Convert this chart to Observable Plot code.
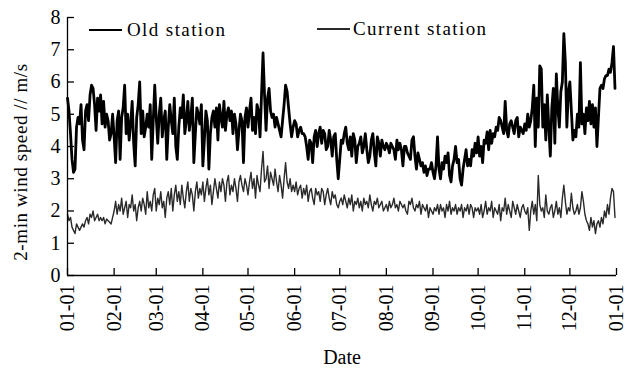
<!DOCTYPE html>
<html>
<head>
<meta charset="utf-8">
<script src="https://cdn.jsdelivr.net/npm/d3@7"></script>
<script src="https://cdn.jsdelivr.net/npm/@observablehq/plot@0.6"></script>
<style>
  html, body { margin: 0; padding: 0; background: #fff; }
  #wrap { position: relative; width: 627px; height: 368px; font-family: "Liberation Serif", serif; overflow: hidden; }
  .leg { position: absolute; font-size: 19px; letter-spacing: 1.4px; color: #000; line-height: 1; white-space: nowrap; }
  .legline { position: absolute; }
  #ylab { position: absolute; font-size: 19px; letter-spacing: 0.6px; line-height: 1; white-space: nowrap; color: #000;
          left: 20px; top: 162px; transform: translate(-50%, -50%) rotate(-90deg); }
</style>
</head>
<body>
<div id="wrap"></div>
<script>
const seriesNames = ["Old station", "Current station"];
const yTicks = [0, 1, 2, 3, 4, 5, 6, 7, 8];
const xLabel = "Date";
const yLabel = "2-min wind speed // m/s";

const oldStation = [
  5.5, 5.1, 4.4, 3.6, 3.2, 3.3, 4.6, 4.9, 4.7, 5.3, 4.2, 3.9, 5.1, 5.3, 4.8, 5.6, 5.9, 5.8, 5.3, 4.5, 5.5, 5.1, 5.6, 4.7, 5.4, 4.6, 5.0, 4.8, 4.2, 4.4, 5.0,
  4.3, 3.5, 4.8, 5.1, 3.6, 4.9, 5.2, 5.9, 4.4, 5.0, 4.2, 4.7, 5.4, 4.1, 3.4, 4.9, 5.3, 6.0, 4.4, 5.1, 4.3, 4.6, 5.0, 4.6, 5.3, 3.6, 4.8, 5.9,
  4.9, 4.1, 5.0, 5.5, 4.3, 4.8, 5.1, 3.6, 4.6, 5.3, 4.8, 4.4, 5.5, 4.0, 3.6, 4.6, 5.2, 4.9, 5.6, 4.4, 4.8, 5.4, 4.5, 4.9, 5.5, 3.5, 4.4, 5.2, 5.0, 4.7, 5.3,
  3.4, 4.2, 5.1, 4.8, 3.3, 4.4, 4.9, 5.1, 4.6, 5.2, 4.2, 5.3, 4.9, 4.6, 5.4, 4.5, 5.0, 5.2, 4.8, 5.1, 4.4, 5.0, 4.7, 3.9, 4.5, 5.0, 4.8, 3.5, 4.9, 5.2,
  4.6, 5.1, 5.5, 4.5, 4.9, 4.4, 5.3, 5.1, 4.3, 5.6, 6.9, 5.6, 4.5, 5.5, 5.8, 5.1, 4.9, 5.0, 4.6, 4.9, 4.7, 4.5, 4.3, 4.8, 5.3, 5.9, 5.7, 5.2, 4.7, 4.3, 4.6,
  4.8, 4.7, 4.3, 4.5, 4.6, 4.4, 4.4, 4.3, 4.0, 3.6, 4.2, 4.1, 3.5, 4.3, 4.5, 4.0, 4.4, 4.6, 4.1, 4.5, 4.4, 3.9, 4.0, 4.5, 4.2, 3.7, 4.3, 4.4, 3.6, 3.0,
  3.6, 4.2, 4.1, 4.4, 4.6, 4.1, 3.9, 4.3, 3.7, 4.4, 4.2, 3.5, 4.0, 4.1, 4.3, 3.8, 4.0, 4.4, 3.9, 3.5, 3.7, 4.2, 4.4, 3.8, 3.4, 4.3, 4.1, 3.7, 4.2, 4.0, 3.9,
  4.1, 4.0, 3.8, 4.1, 4.0, 3.9, 3.6, 4.2, 3.9, 4.1, 3.9, 3.4, 4.0, 4.0, 3.8, 3.7, 3.6, 4.2, 4.3, 3.7, 3.3, 3.8, 3.6, 3.4, 3.5, 3.2, 3.4, 3.1, 3.3, 3.3, 3.5,
  3.2, 3.0, 3.4, 4.3, 3.3, 3.0, 3.5, 3.3, 3.7, 3.5, 3.8, 3.1, 2.9, 3.4, 3.6, 4.0, 3.5, 3.6, 3.0, 2.8, 3.3, 3.6, 3.9, 3.4, 3.6, 3.4, 3.9, 3.7, 4.1, 3.8,
  4.3, 3.7, 4.0, 3.5, 4.2, 4.1, 4.45, 3.9, 4.5, 4.1, 4.4, 4.3, 4.6, 4.5, 4.9, 4.8, 4.6, 4.4, 5.4, 4.5, 4.3, 4.7, 4.8, 4.6, 4.4, 4.8, 4.9, 4.3, 4.6, 4.5, 4.4,
  4.7, 4.5, 5.0, 4.6, 4.8, 5.2, 5.9, 4.0, 5.5, 4.6, 6.5, 6.4, 4.6, 5.3, 4.2, 5.6, 4.6, 3.7, 5.2, 5.8, 4.1, 6.25, 5.2, 4.6, 5.7, 6.0, 7.5, 6.6, 4.6, 5.7,
  6.0, 5.1, 4.2, 4.5, 4.3, 5.0, 4.6, 6.6, 4.7, 5.0, 4.4, 5.2, 4.8, 5.4, 4.7, 5.3, 4.6, 5.2, 4.0, 4.9, 5.8, 5.9, 5.8, 6.1, 6.2, 6.2, 6.4, 6.3, 6.6, 7.1, 5.8
];

const currentStation = [
  1.9, 1.7, 1.8, 1.5, 1.4, 1.3, 1.6, 1.5, 1.4, 1.5, 1.6, 1.5, 1.7, 1.8, 1.6, 1.9, 1.8, 2.0, 1.7, 1.8, 1.9, 1.7, 1.8, 1.7, 1.8, 1.6, 1.75, 1.7, 1.65, 1.6, 1.8,
  2.0, 2.3, 1.9, 2.2, 2.0, 2.4, 1.9, 2.1, 2.3, 1.8, 2.2, 2.1, 2.5, 2.0, 2.2, 1.7, 2.1, 2.3, 2.0, 2.4, 2.2, 1.9, 2.6, 2.1, 2.3, 2.0, 2.5, 2.7,
  2.0, 2.4, 2.2, 2.6, 2.1, 2.3, 1.8, 2.4, 2.6, 2.2, 2.7, 2.0, 2.5, 2.8, 2.3, 2.6, 2.2, 2.8, 2.4, 2.1, 2.6, 2.9, 2.3, 2.7, 2.5, 2.0, 2.6, 2.9, 2.4, 2.7, 2.5,
  2.9, 2.3, 2.7, 3.0, 2.5, 2.8, 2.2, 2.6, 3.0, 2.7, 2.4, 2.9, 2.6, 3.0, 2.8, 2.3, 2.9, 3.1, 2.5, 2.8, 2.6, 3.0, 2.7, 2.3, 2.9, 3.1, 2.8, 2.6, 3.0, 2.8,
  2.5, 2.9, 3.2, 2.7, 3.0, 2.4, 3.1, 2.8, 2.6, 3.3, 3.85, 2.9, 3.0, 3.4, 2.7, 3.2, 3.0, 2.8, 3.3, 2.9, 2.6, 3.1, 2.8, 2.4, 3.0, 3.5, 2.9, 2.7, 3.0, 2.6, 2.8,
  2.6, 2.9, 2.5, 2.7, 2.8, 2.4, 2.7, 2.5, 2.8, 2.3, 2.6, 2.7, 2.4, 2.2, 2.7, 2.5, 2.6, 2.3, 2.7, 2.6, 2.2, 2.5, 2.7, 2.4, 2.2, 2.6, 2.4, 2.5, 2.2, 2.1,
  2.3, 2.4, 2.2, 2.5, 2.3, 2.1, 2.4, 2.2, 2.5, 2.0, 2.3, 2.2, 2.4, 2.1, 2.3, 2.0, 2.4, 2.2, 2.3, 2.1, 2.5, 2.2, 2.0, 2.3, 2.2, 2.4, 2.1, 2.2, 2.3, 2.0, 2.1,
  2.2, 2.0, 2.3, 2.1, 2.2, 2.4, 2.1, 2.2, 2.0, 2.3, 2.2, 2.1, 2.2, 2.0, 1.9, 2.3, 2.2, 2.4, 2.1, 2.0, 2.2, 2.1, 2.3, 1.9, 2.2, 2.1, 2.0, 2.2, 1.8, 2.1, 2.0,
  1.9, 2.1, 2.0, 2.2, 1.9, 2.2, 2.0, 2.1, 1.8, 2.2, 2.0, 2.3, 1.9, 2.1, 2.0, 2.2, 1.9, 2.1, 2.0, 2.2, 1.8, 2.1, 2.0, 2.2, 1.9, 2.2, 2.1, 1.8, 2.1, 2.0,
  2.1, 1.9, 2.2, 1.8, 2.0, 2.3, 1.9, 2.1, 2.0, 2.3, 1.8, 2.1, 2.0, 1.9, 2.2, 1.7, 2.1, 2.0, 2.4, 1.9, 2.2, 2.0, 1.8, 2.3, 2.1, 1.9, 2.2, 2.0, 1.8, 2.1, 2.2,
  2.0, 1.9, 2.1, 1.4, 2.0, 2.3, 1.9, 2.2, 1.7, 3.1, 2.2, 2.0, 2.1, 1.8, 2.5, 2.0, 1.9, 2.1, 2.2, 1.8, 2.0, 2.3, 1.9, 2.1, 1.8, 2.4, 2.8, 2.3, 1.9, 2.1,
  2.0, 2.55, 2.1, 1.9, 2.0, 2.2, 1.9, 2.1, 2.6, 2.3, 1.9, 1.7, 1.6, 1.4, 1.8, 1.5, 1.7, 1.3, 1.6, 1.7, 1.5, 1.8, 1.6, 2.0, 1.8, 2.2, 1.9, 2.4, 2.7, 2.6, 1.8
];

const start = new Date(Date.UTC(2019, 0, 1));
const end = new Date(Date.UTC(2020, 0, 1));
const days = d3.utcDay.range(start, end);
const monthTicks = d3.utcMonth.range(start, d3.utcDay.offset(end, 1));

const oldData = days.map((d, i) => ({date: d, v: oldStation[i]})).filter(d => d.v != null);
const curData = days.map((d, i) => ({date: d, v: currentStation[i]})).filter(d => d.v != null);

const chart = Plot.plot({
  width: 627,
  height: 368,
  marginLeft: 67,
  marginRight: 11,
  marginTop: 17,
  marginBottom: 93,
  style: {fontFamily: "Liberation Serif, serif", fontSize: "19px", color: "#000", background: "#fff"},
  x: {type: "utc", domain: [start, end]},
  y: {domain: [0, 8]},
  marks: [
    Plot.line(curData, {x: "date", y: "v", stroke: "#2a2a2a", strokeWidth: 1.4}),
    Plot.line(oldData, {x: "date", y: "v", stroke: "#000", strokeWidth: 2.8}),
    Plot.ruleX([start], {stroke: "#000", strokeWidth: 1.3}),
    Plot.ruleY([0], {stroke: "#000", strokeWidth: 1.3}),
    Plot.axisY(yTicks, {tickSize: -7, tickPadding: 14, strokeWidth: 1.3, label: null, fontSize: 20}),
    Plot.axisX(monthTicks, {tickSize: -7, tickPadding: 16, strokeWidth: 1.3, tickFormat: d3.utcFormat("%m-%d"), tickRotate: -90, label: xLabel, labelAnchor: "center", labelArrow: "none", labelOffset: 88, fontSize: 20})
  ]
});

const wrap = document.getElementById("wrap");
wrap.appendChild(chart);

// y-axis title
const yl = document.createElement("div");
yl.id = "ylab";
yl.textContent = yLabel;
wrap.appendChild(yl);

// legend
function addLegend(name, left, top, stroke, sw, textLeft) {
  const l = document.createElement("div");
  l.className = "legline";
  l.style.left = left + "px";
  l.style.top = (top - sw / 2) + "px";
  l.style.width = "33px";
  l.style.height = sw + "px";
  l.style.background = stroke;
  wrap.appendChild(l);
  const t = document.createElement("div");
  t.className = "leg";
  t.style.left = textLeft + "px";
  t.style.top = (top - 10) + "px";
  t.textContent = name;
  wrap.appendChild(t);
}
addLegend(seriesNames[0], 89, 30, "#000", 2.6, 127);
addLegend(seriesNames[1], 317, 29, "#2a2a2a", 1.5, 353);
</script>
</body>
</html>
